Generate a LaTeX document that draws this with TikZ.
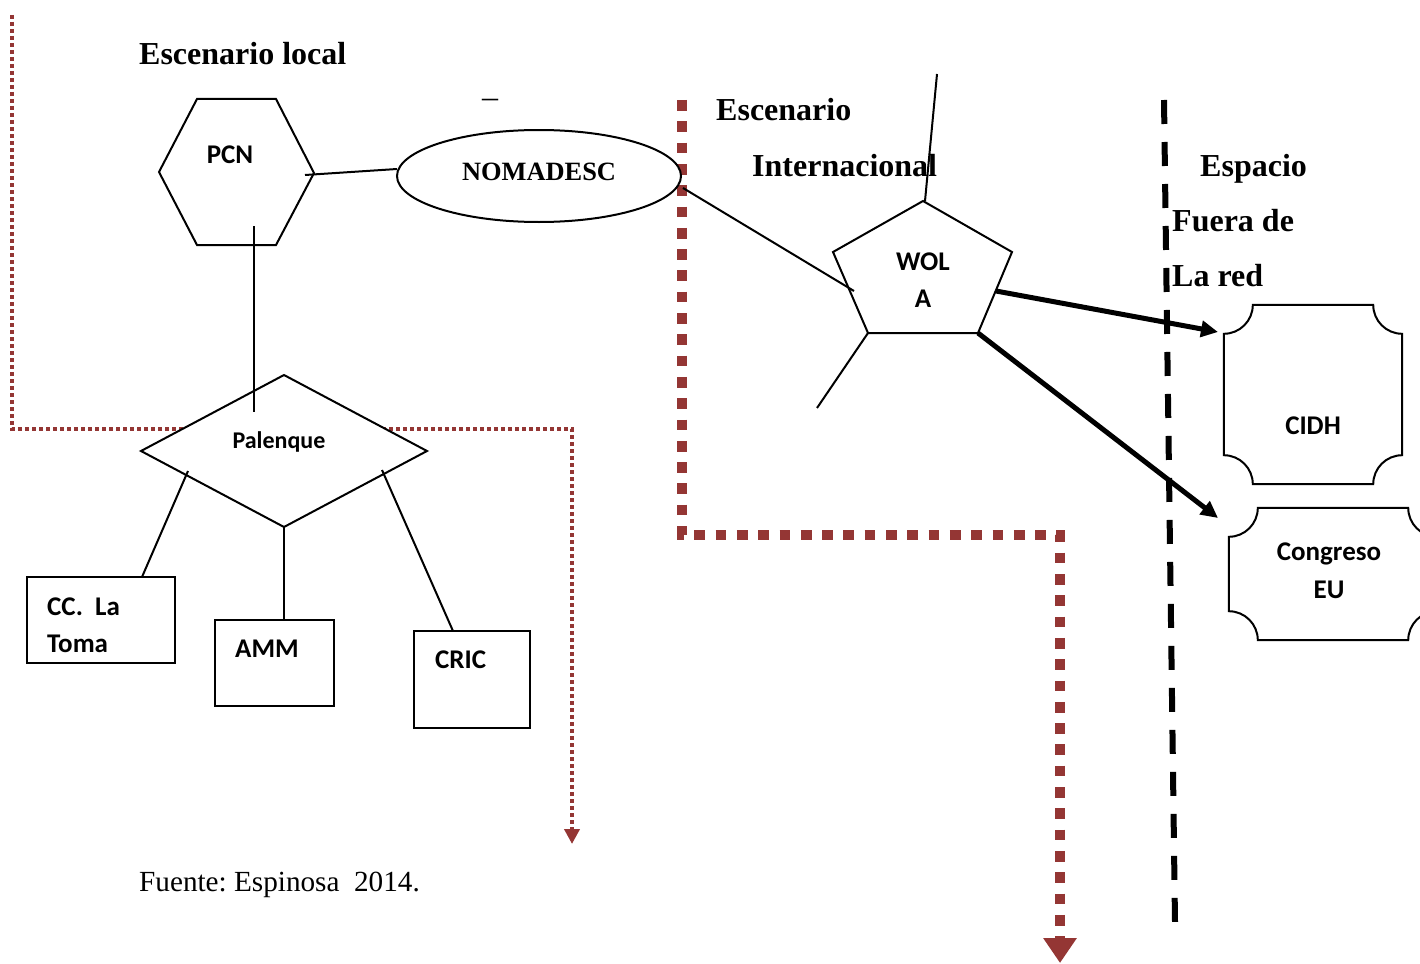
\documentclass[tikz,border=0pt]{standalone}
\usepackage{fontspec}
\setmainfont{Liberation Serif}
\newfontfamily\carl{Carlito}
\usetikzlibrary{arrows.meta,shapes.geometric,calc}
\definecolor{dred}{RGB}{148,54,52}
\tikzset{
  ttl/.style={font=\fontsize{32}{38}\selectfont\bfseries, anchor=base west, inner sep=0pt},
  plain/.style={font=\fontsize{29.2}{35}\selectfont, anchor=base west, inner sep=0pt},
  lbl/.style={font=\carl\bfseries\fontsize{27}{32}\selectfont, anchor=base, inner sep=0pt},
  lblw/.style={lbl, anchor=base west},
  shp/.style={draw=black, line width=2pt, fill=white, line join=miter},
  boxnode/.style={draw=black, line width=2pt, fill=white, inner sep=0pt},
  conn/.style={draw=black, line width=2pt},
  bigarrow/.style={draw=black, line width=5pt, -{Triangle[length=17pt,width=16pt]}},
  reddots/.style={draw=dred, line width=4pt, dash pattern=on 4pt off 3pt, -{Triangle[length=15pt,width=15pt]}},
  redbig/.style={draw=dred, line width=10.7pt, dash pattern=on 10.7pt off 10.6pt, -{Triangle[length=25pt,width=32pt]}},
  blackdash/.style={draw=black, line width=6pt, dash pattern=on 24pt off 18pt},
}
\newcommand\plaque[1]{%
 \draw[shp] ($(#1.north west)+(29,0)$) -- ($(#1.north east)+(-29,0)$)
 .. controls ($(#1.north east)+(-29,16)$) and ($(#1.north east)+(-16,29)$) .. ($(#1.north east)+(0,29)$)
 -- ($(#1.south east)+(0,-29)$)
 .. controls ($(#1.south east)+(-16,-29)$) and ($(#1.south east)+(-29,-16)$) .. ($(#1.south east)+(-29,0)$)
 -- ($(#1.south west)+(29,0)$)
 .. controls ($(#1.south west)+(29,-16)$) and ($(#1.south west)+(16,-29)$) .. ($(#1.south west)+(0,-29)$)
 -- ($(#1.north west)+(0,29)$)
 .. controls ($(#1.north west)+(16,29)$) and ($(#1.north west)+(29,16)$) .. ($(#1.north west)+(29,0)$) -- cycle;}
\begin{document}
\frenchspacing
\begin{tikzpicture}[x=1pt,y=-1pt]
\path[use as bounding box, clip] (0,0) rectangle (1420,963);
\fill[white] (0,0) rectangle (1420,963);

% region boundaries
\coordinate (r1a) at (12,15);
\coordinate (r1b) at (12,429);
\coordinate (r1c) at (572,429);
\coordinate (r1d) at (572,844);
\draw[reddots] (r1a) -- (r1b) -- (r1c) -- (r1d);

\coordinate (r2a) at (682,100);
\coordinate (r2b) at (682,535);
\coordinate (r2c) at (1060,535);
\coordinate (r2d) at (1060,963);
\draw[redbig] (r2a) -- (r2b) -- (r2c) -- (r2d);

\coordinate (bd1) at (1164,100);
\coordinate (bd2) at (1175,922);
\draw[blackdash] (bd1) -- (bd2);

% titles
\node[ttl] (tlocal) at (139,65) {Escenario local};
\node[ttl] (tesc) at (716,121) {Escenario};
\node[ttl] (tint) at (752,176) {Internacional};
\node[ttl] (tesp) at (1200,176) {Espacio};
\node[ttl] (tfue) at (1172,231) {Fuera de};
\node[ttl] (tred) at (1172,286) {La red};
\node[plain] (fuente) at (139,891) {Fuente: Espinosa\ \ 2014.};
\node[font=\fontsize{32}{38}\selectfont, anchor=base, inner sep=0pt] (dash) at (490,107) {–};

% PCN hexagon
\draw[shp] (197,99) -- (276,99) -- (314,173) -- (276,245) -- (197,245) -- (159,172) -- cycle;
\node[lbl] (pcn) at (230,163) {PCN};

% NOMADESC ellipse
\node[ellipse, draw=black, line width=2pt, fill=white, minimum width=284pt, minimum height=92pt, inner sep=0pt] (nomadesc) at (539,176) {};
\node[font=\fontsize{26.4}{30}\selectfont\bfseries, anchor=base, inner sep=0pt] (nomt) at (539,180) {NOMADESC};

% Palenque diamond
\draw[shp] (284,375) -- (427,451) -- (284,527) -- (141,451) -- cycle;
\node[lbl, font=\carl\bfseries\fontsize{24}{28}\selectfont] (palenque) at (279,448) {Palenque};

% WOLA pentagon
\draw[shp] (923,201) -- (1012,252) -- (978,333) -- (868,333) -- (833,252) -- cycle;
\node[lbl] (wola1) at (923,270) {WOL};
\node[lbl] (wola2) at (923,307) {A};

% boxes
\node[boxnode, minimum width=148pt, minimum height=86pt] (toma) at (101,620) {};
\node[lblw] (tomat1) at (47,615) {CC.\ \ La};
\node[lblw] (tomat2) at (47,652) {Toma};
\node[boxnode, minimum width=119pt, minimum height=86pt] (amm) at (274.5,663) {};
\node[lblw] (ammt) at (235,657) {AMM};
\node[boxnode, minimum width=116pt, minimum height=97pt] (cric) at (472,679.5) {};
\node[lblw] (crict) at (435,668) {CRIC};

% plaques
\node[minimum width=178pt, minimum height=179pt, inner sep=0pt] (cidh) at (1313,394.5) {};
\plaque{cidh}
\node[lbl] (cidht) at (1313,434) {CIDH};
\node[minimum width=208pt, minimum height=132pt, inner sep=0pt] (congreso) at (1333,574) {};
\plaque{congreso}
\node[lbl] (congt1) at (1329,560) {Congreso};
\node[lbl] (congt2) at (1329,598) {EU};

% connectors
\coordinate (pcnR) at (305,175);
\coordinate (nomL) at (397,169);
\draw[conn] (pcnR) -- (nomL);
\coordinate (pcnIn) at (254,226);
\coordinate (palIn) at (254,412);
\draw[conn] (pcnIn) -- (palIn);
\coordinate (nomR) at (683,188);
\coordinate (wolaL) at (854,291);
\draw[conn] (nomR) -- (wolaL);
\coordinate (wolaT) at (925,201);
\coordinate (freeT) at (937,74);
\draw[conn] (wolaT) -- (freeT);
\coordinate (wolaBL) at (868,333);
\coordinate (freeB) at (817,408);
\draw[conn] (wolaBL) -- (freeB);
\coordinate (wolaR) at (996,291);
\coordinate (cidhIn) at (1218,332);
\draw[bigarrow] (wolaR) -- (cidhIn);
\coordinate (wolaBR) at (978,333);
\coordinate (congIn) at (1218,518);
\draw[bigarrow] (wolaBR) -- (congIn);

\coordinate (palA) at (188,471);
\coordinate (tomaT) at (142,577);
\draw[conn] (palA) -- (tomaT);
\coordinate (palB) at (284,527);
\coordinate (ammT) at (284,620);
\draw[conn] (palB) -- (ammT);
\coordinate (palC) at (382,470);
\coordinate (cricT) at (453,631);
\draw[conn] (palC) -- (cricT);
\end{tikzpicture}
\end{document}
